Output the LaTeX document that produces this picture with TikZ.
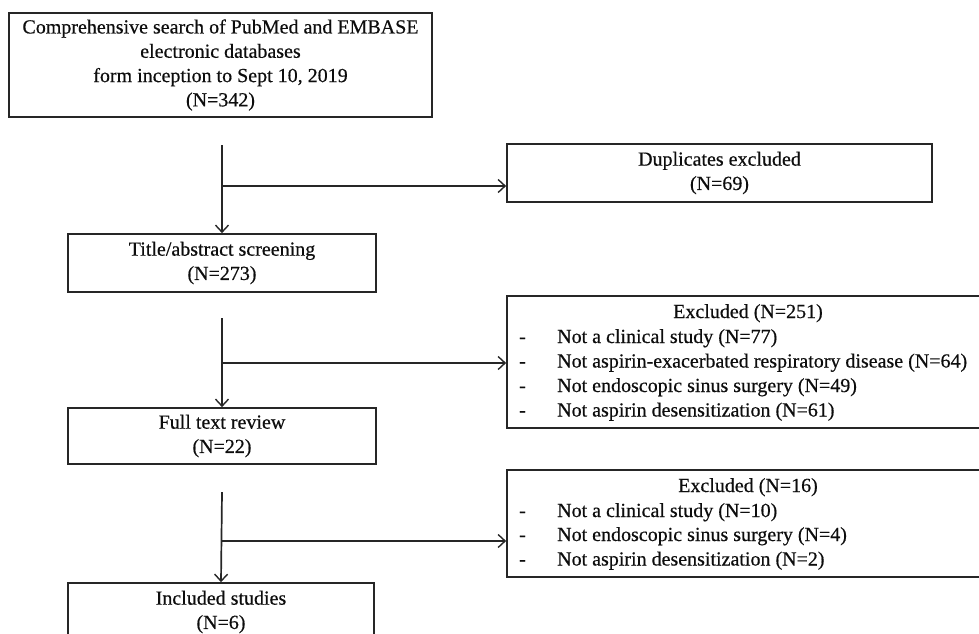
\documentclass[tikz,border=0pt]{standalone}
\usepackage{fontspec}
\setmainfont[FakeBold=0.5]{Liberation Serif}
\usetikzlibrary{arrows.meta}
\begin{document}
\begin{tikzpicture}[x=1pt,y=-1pt,
  every node/.style={font=\fontsize{20}{24.3}\selectfont, text=black!95},
  box/.style={draw=black!85, line width=1.7pt, inner sep=0pt, align=center},
  conn/.style={draw=black!85, line width=1.7pt},
  arr/.style={conn, -{Straight Barb[length=7pt,width=13pt,line width=1.4pt]}},
  lst/.style={anchor=west, inner sep=0pt, text height=14pt, text depth=4pt},
  ttl/.style={inner sep=0pt, text height=14pt, text depth=4pt}]
\useasboundingbox (0,0) rectangle (979,633);
% main column boxes
\node[box, minimum width=423pt, minimum height=104pt] (search) at (220.5,65)
  {Comprehensive search of PubMed and EMBASE\\electronic databases\\form inception to Sept 10, 2019\\(N=342)};
\node[box, minimum width=308pt, minimum height=58pt] (title) at (222,263)
  {Title/abstract screening\\(N=273)};
\node[box, minimum width=308pt, minimum height=56pt] (full) at (222,436)
  {Full text review\\(N=22)};
\node[box, minimum width=306pt, minimum height=58pt] (incl) at (221,612)
  {Included studies\\(N=6)};
% side boxes
\node[box, minimum width=425pt, minimum height=58pt] (dup) at (719.5,173)
  {Duplicates excluded\\(N=69)};
\node[box, minimum width=482pt, minimum height=132pt] (ex1) at (748,362) {};
\node[box, minimum width=482pt, minimum height=107pt] (ex2) at (748,523.5) {};
% text of excluded boxes
\node[ttl] (ex1t) at (748,313) {Excluded (N=251)};
\node[lst] (ex1a) at (519,338) {\makebox[38pt][l]{-}Not a clinical study (N=77)};
\node[lst] (ex1b) at (519,362.5) {\makebox[38pt][l]{-}Not aspirin-exacerbated respiratory disease (N=64)};
\node[lst] (ex1c) at (519,387) {\makebox[38pt][l]{-}Not endoscopic sinus surgery (N=49)};
\node[lst] (ex1d) at (519,411.5) {\makebox[38pt][l]{-}Not aspirin desensitization (N=61)};
\node[ttl] (ex2t) at (748,487) {Excluded (N=16)};
\node[lst] (ex2a) at (519,512) {\makebox[38pt][l]{-}Not a clinical study (N=10)};
\node[lst] (ex2b) at (519,536) {\makebox[38pt][l]{-}Not endoscopic sinus surgery (N=4)};
\node[lst] (ex2c) at (519,560.5) {\makebox[38pt][l]{-}Not aspirin desensitization (N=2)};
% connectors
\coordinate (s1) at (222,145);
\coordinate (b1) at (222,186);
\coordinate (s2) at (222,318);
\coordinate (b2) at (222,363);
\coordinate (s3) at (222,492);
\coordinate (b3) at (222,541);
\draw[arr] (s1) -- (title.north);
\draw[arr] (b1) -- (b1 -| dup.west);
\draw[arr] (s2) -- (full.north);
\draw[arr] (b2) -- (b2 -| ex1.west);
\draw[arr] (s3) -- (incl.north);
\draw[arr] (b3) -- (b3 -| ex2.west);
\end{tikzpicture}
\end{document}
